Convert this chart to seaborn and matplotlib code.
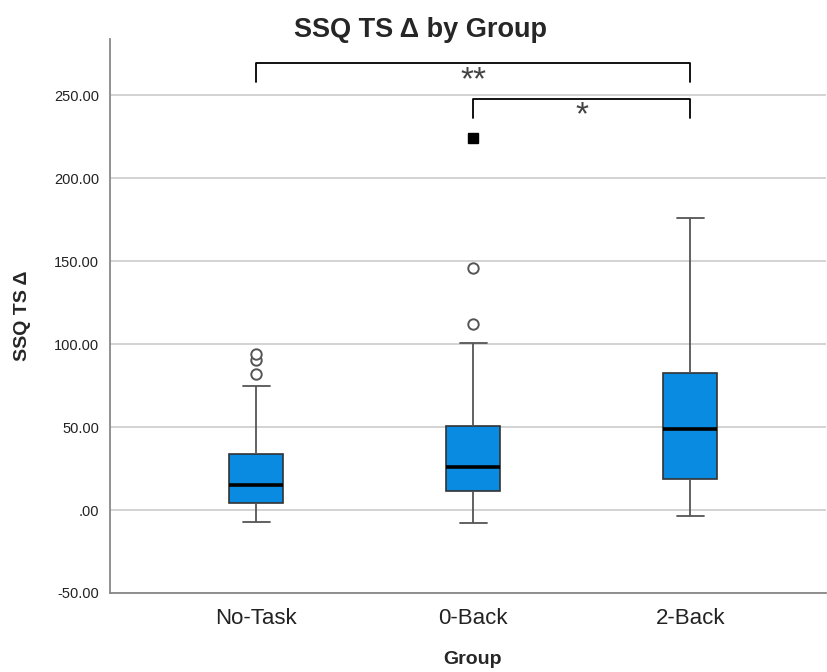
import numpy as np
import pandas as pd
import matplotlib
matplotlib.use("Agg")
import matplotlib.pyplot as plt
import seaborn as sns
from matplotlib.ticker import FuncFormatter

# ===============================================
# DATOS
# ===============================================

groups = ["No-Task", "0-Back", "2-Back"]
whisker_low = [-7.0, -8.0, -3.6]
q1 = [4.2, 11.4, 18.8]
medians = [15.3, 26.1, 49.0]
q3 = [33.5, 50.5, 82.4]
whisker_high = [74.7, 100.8, 175.8]
outliers = [[82.3, 90.6, 93.8], [112.2, 145.9], []]
extremes = [[], [224.4], []]

# comparaciones: (grupo a, grupo b, altura, etiqueta)
comp_pairs = [("No-Task", "2-Back"), ("0-Back", "2-Back")]
comp_heights = [269.5, 248.0]
comp_labels = ["**", "*"]

# ===============================================
# TABLA LARGA PARA SEABORN
# ===============================================

rows = []
for i, g in enumerate(groups):
    vals = ([whisker_low[i]] + [q1[i]] * 20 + [medians[i]] * 20
            + [q3[i]] * 20 + [whisker_high[i]] + outliers[i])
    rows += [(g, v) for v in vals]
df = pd.DataFrame(rows, columns=["Group", "value"])

# ===============================================
# GRÁFICO
# ===============================================

sns.set_style("white")
plt.rcParams["font.family"] = ["Liberation Sans", "DejaVu Sans"]

fig = plt.figure(figsize=(8.28, 6.72), dpi=100)
ax = fig.add_axes([0.133, 0.1176, 0.865, 0.8244])

box_color = "#0A8BE2"
line_col = "#555555"

sns.boxplot(
    data=df, x="Group", y="value", order=groups, ax=ax,
    color=box_color, saturation=1, width=0.25, linewidth=1.2,
    boxprops=dict(edgecolor="#333333", linewidth=1.2),
    whiskerprops=dict(color=line_col, linewidth=1.3),
    capprops=dict(color=line_col, linewidth=1.3),
    medianprops=dict(color="black", linewidth=2.6),
    flierprops=dict(marker="o", markerfacecolor="white", markeredgecolor=line_col,
                    markeredgewidth=1.4, markersize=7.5),
)

# valores extremos (cuadrado negro)
for i, g in enumerate(groups):
    for v in extremes[i]:
        ax.plot(i, v, marker="s", color="black", markersize=7.5, linestyle="none")

ax.set_ylim(-50, 284)
ax.set_xlim(-0.673, 2.627)
ax.set_yticks([-50, 0, 50, 100, 150, 200, 250])


def fmt(v, pos):
    s = f"{v:.2f}"
    if s.startswith("0."):
        s = s[1:]
    return s


ax.yaxis.set_major_formatter(FuncFormatter(fmt))
ax.yaxis.grid(True, color="#cccccc", linewidth=1.2)
ax.set_axisbelow(True)
ax.tick_params(axis="y", length=0, pad=8, labelsize=10.5, labelcolor="#222222")
ax.tick_params(axis="x", length=0, pad=11, labelsize=16, labelcolor="#222222")
ax.set_xlabel("")
ax.set_ylabel("")

for side in ["top", "right"]:
    ax.spines[side].set_visible(False)
for side in ["left", "bottom"]:
    ax.spines[side].set_color("#888888")
    ax.spines[side].set_linewidth(1.3)

# brackets de significación
for (a, b), h, lab in zip(comp_pairs, comp_heights, comp_labels):
    xa, xb = groups.index(a), groups.index(b)
    ax.plot([xa, xa, xb, xb], [h - 11.5, h, h, h - 11.5], color="black",
            linewidth=1.3, clip_on=False)
    ax.text((xa + xb) / 2, h - 10.5, lab, ha="center", va="center",
            fontsize=24, color="#444444")

fig.text(0.508, 0.955, "SSQ TS Δ by Group", ha="center", va="center",
         fontsize=19.5, fontweight="bold")
fig.text(0.571, 0.018, "Group", ha="center", va="center",
         fontsize=14, fontweight="bold")
fig.text(0.027, 0.53, "SSQ TS Δ", ha="center", va="center", rotation=90,
         fontsize=14, fontweight="bold")

fig.savefig("out.png", dpi=100)
